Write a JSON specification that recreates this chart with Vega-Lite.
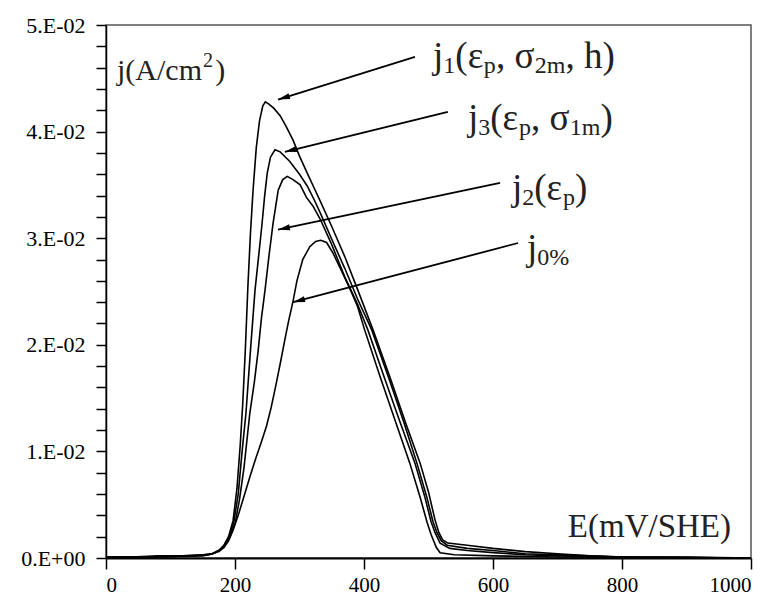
{
  "$schema": "https://vega.github.io/schema/vega-lite/v6.json",
  "width": 645,
  "height": 533,
  "autosize": {"type": "none"},
  "padding": {"left": 106, "top": 25, "right": 22, "bottom": 44},
  "background": "white",
  "config": {
    "view": {"stroke": "#555555", "strokeWidth": 1.5},
    "axis": {"grid": false, "domainColor": "black", "tickColor": "black", "labelColor": "black", "title": null}
  },
  "datasets": {
    "curves": [
      {"curve": "j1", "E": 0, "j": 0.0001}, {"curve": "j1", "E": 40, "j": 0.0001}, {"curve": "j1", "E": 80, "j": 0.0002}, {"curve": "j1", "E": 120, "j": 0.0002}, {"curve": "j1", "E": 150, "j": 0.0003}, {"curve": "j1", "E": 165, "j": 0.0004}, {"curve": "j1", "E": 175, "j": 0.0007}, {"curve": "j1", "E": 183, "j": 0.0012}, {"curve": "j1", "E": 190, "j": 0.0020}, {"curve": "j1", "E": 197, "j": 0.0035}, {"curve": "j1", "E": 203, "j": 0.0065}, {"curve": "j1", "E": 208, "j": 0.0105}, {"curve": "j1", "E": 212, "j": 0.0145}, {"curve": "j1", "E": 216, "j": 0.0195}, {"curve": "j1", "E": 220, "j": 0.0255}, {"curve": "j1", "E": 224, "j": 0.0305}, {"curve": "j1", "E": 228, "j": 0.0345}, {"curve": "j1", "E": 233, "j": 0.0385}, {"curve": "j1", "E": 238, "j": 0.0410}, {"curve": "j1", "E": 243, "j": 0.0424}, {"curve": "j1", "E": 247, "j": 0.0428}, {"curve": "j1", "E": 252, "j": 0.0426}, {"curve": "j1", "E": 260, "j": 0.0422}, {"curve": "j1", "E": 270, "j": 0.0415}, {"curve": "j1", "E": 280, "j": 0.0404}, {"curve": "j1", "E": 290, "j": 0.0392}, {"curve": "j1", "E": 300, "j": 0.0377}, {"curve": "j1", "E": 312, "j": 0.0361}, {"curve": "j1", "E": 322, "j": 0.0348}, {"curve": "j1", "E": 332, "j": 0.0335}, {"curve": "j1", "E": 350, "j": 0.0311}, {"curve": "j1", "E": 370, "j": 0.0283}, {"curve": "j1", "E": 390, "j": 0.0252}, {"curve": "j1", "E": 414, "j": 0.0214}, {"curve": "j1", "E": 440, "j": 0.0170}, {"curve": "j1", "E": 465, "j": 0.0126}, {"curve": "j1", "E": 487, "j": 0.0089}, {"curve": "j1", "E": 500, "j": 0.0062}, {"curve": "j1", "E": 510, "j": 0.0036}, {"curve": "j1", "E": 516, "j": 0.0024}, {"curve": "j1", "E": 522, "j": 0.0017}, {"curve": "j1", "E": 530, "j": 0.0014}, {"curve": "j1", "E": 560, "j": 0.0012}, {"curve": "j1", "E": 600, "j": 0.0009}, {"curve": "j1", "E": 650, "j": 0.0006}, {"curve": "j1", "E": 700, "j": 0.0004}, {"curve": "j1", "E": 750, "j": 0.0002}, {"curve": "j1", "E": 800, "j": 0.0001}, {"curve": "j1", "E": 900, "j": 0.0001}, {"curve": "j1", "E": 1000, "j": 0.0000},

      {"curve": "j3", "E": 0, "j": 0.0001}, {"curve": "j3", "E": 50, "j": 0.0001}, {"curve": "j3", "E": 100, "j": 0.0001}, {"curve": "j3", "E": 140, "j": 0.0002}, {"curve": "j3", "E": 165, "j": 0.0004}, {"curve": "j3", "E": 175, "j": 0.0007}, {"curve": "j3", "E": 183, "j": 0.0012}, {"curve": "j3", "E": 190, "j": 0.0019}, {"curve": "j3", "E": 198, "j": 0.0033}, {"curve": "j3", "E": 205, "j": 0.0060}, {"curve": "j3", "E": 211, "j": 0.0100}, {"curve": "j3", "E": 217, "j": 0.0136}, {"curve": "j3", "E": 224, "j": 0.0195}, {"curve": "j3", "E": 231, "j": 0.0251}, {"curve": "j3", "E": 237, "j": 0.0285}, {"curve": "j3", "E": 242, "j": 0.0314}, {"curve": "j3", "E": 246, "j": 0.0340}, {"curve": "j3", "E": 250, "j": 0.0361}, {"curve": "j3", "E": 255, "j": 0.0376}, {"curve": "j3", "E": 262, "j": 0.0383}, {"curve": "j3", "E": 270, "j": 0.0381}, {"curve": "j3", "E": 285, "j": 0.0372}, {"curve": "j3", "E": 300, "j": 0.0360}, {"curve": "j3", "E": 312, "j": 0.0349}, {"curve": "j3", "E": 322, "j": 0.0337}, {"curve": "j3", "E": 332, "j": 0.0324}, {"curve": "j3", "E": 350, "j": 0.0299}, {"curve": "j3", "E": 370, "j": 0.0272}, {"curve": "j3", "E": 390, "j": 0.0243}, {"curve": "j3", "E": 412, "j": 0.0214}, {"curve": "j3", "E": 440, "j": 0.0166}, {"curve": "j3", "E": 462, "j": 0.0127}, {"curve": "j3", "E": 482, "j": 0.0089}, {"curve": "j3", "E": 497, "j": 0.0058}, {"curve": "j3", "E": 507, "j": 0.0034}, {"curve": "j3", "E": 513, "j": 0.0024}, {"curve": "j3", "E": 520, "j": 0.0016}, {"curve": "j3", "E": 529, "j": 0.0012}, {"curve": "j3", "E": 560, "j": 0.0009}, {"curve": "j3", "E": 600, "j": 0.0007}, {"curve": "j3", "E": 650, "j": 0.0004}, {"curve": "j3", "E": 700, "j": 0.0003}, {"curve": "j3", "E": 750, "j": 0.0002}, {"curve": "j3", "E": 800, "j": 0.0001}, {"curve": "j3", "E": 1000, "j": 0.0000},

      {"curve": "j2", "E": 0, "j": 0.0001}, {"curve": "j2", "E": 60, "j": 0.0001}, {"curve": "j2", "E": 110, "j": 0.0002}, {"curve": "j2", "E": 150, "j": 0.0002}, {"curve": "j2", "E": 165, "j": 0.0004}, {"curve": "j2", "E": 175, "j": 0.0007}, {"curve": "j2", "E": 183, "j": 0.0011}, {"curve": "j2", "E": 192, "j": 0.0020}, {"curve": "j2", "E": 200, "j": 0.0032}, {"curve": "j2", "E": 207, "j": 0.0055}, {"curve": "j2", "E": 214, "j": 0.0085}, {"curve": "j2", "E": 223, "j": 0.0136}, {"curve": "j2", "E": 230, "j": 0.0165}, {"curve": "j2", "E": 236, "j": 0.0195}, {"curve": "j2", "E": 241, "j": 0.0225}, {"curve": "j2", "E": 246.5, "j": 0.0251}, {"curve": "j2", "E": 253, "j": 0.0285}, {"curve": "j2", "E": 259, "j": 0.0314}, {"curve": "j2", "E": 267, "j": 0.0345}, {"curve": "j2", "E": 274, "j": 0.0355}, {"curve": "j2", "E": 281, "j": 0.0358}, {"curve": "j2", "E": 290, "j": 0.0355}, {"curve": "j2", "E": 301, "j": 0.0350}, {"curve": "j2", "E": 311, "j": 0.0338}, {"curve": "j2", "E": 321, "j": 0.0330}, {"curve": "j2", "E": 332, "j": 0.0318}, {"curve": "j2", "E": 350, "j": 0.0294}, {"curve": "j2", "E": 370, "j": 0.0264}, {"curve": "j2", "E": 390, "j": 0.0238}, {"curve": "j2", "E": 406, "j": 0.0214}, {"curve": "j2", "E": 430, "j": 0.0172}, {"curve": "j2", "E": 455, "j": 0.0129}, {"curve": "j2", "E": 479, "j": 0.0089}, {"curve": "j2", "E": 494, "j": 0.0058}, {"curve": "j2", "E": 504, "j": 0.0034}, {"curve": "j2", "E": 510, "j": 0.0024}, {"curve": "j2", "E": 518, "j": 0.0014}, {"curve": "j2", "E": 533, "j": 0.0009}, {"curve": "j2", "E": 560, "j": 0.0007}, {"curve": "j2", "E": 600, "j": 0.0005}, {"curve": "j2", "E": 650, "j": 0.0003}, {"curve": "j2", "E": 700, "j": 0.0002}, {"curve": "j2", "E": 800, "j": 0.0001}, {"curve": "j2", "E": 1000, "j": 0.0000},

      {"curve": "j0", "E": 0, "j": 0.0001}, {"curve": "j0", "E": 70, "j": 0.0001}, {"curve": "j0", "E": 120, "j": 0.0002}, {"curve": "j0", "E": 160, "j": 0.0003}, {"curve": "j0", "E": 175, "j": 0.0006}, {"curve": "j0", "E": 183, "j": 0.0010}, {"curve": "j0", "E": 190, "j": 0.0016}, {"curve": "j0", "E": 197, "j": 0.0026}, {"curve": "j0", "E": 205, "j": 0.0040}, {"curve": "j0", "E": 214, "j": 0.0058}, {"curve": "j0", "E": 223, "j": 0.0076}, {"curve": "j0", "E": 232, "j": 0.0093}, {"curve": "j0", "E": 241, "j": 0.0109}, {"curve": "j0", "E": 249, "j": 0.0124}, {"curve": "j0", "E": 256, "j": 0.0141}, {"curve": "j0", "E": 263, "j": 0.0161}, {"curve": "j0", "E": 270, "j": 0.0182}, {"curve": "j0", "E": 277, "j": 0.0204}, {"curve": "j0", "E": 283, "j": 0.0222}, {"curve": "j0", "E": 290, "j": 0.0241}, {"curve": "j0", "E": 296, "j": 0.0260}, {"curve": "j0", "E": 305, "j": 0.0280}, {"curve": "j0", "E": 316, "j": 0.0292}, {"curve": "j0", "E": 325, "j": 0.0297}, {"curve": "j0", "E": 333, "j": 0.0298}, {"curve": "j0", "E": 342, "j": 0.0296}, {"curve": "j0", "E": 352, "j": 0.0286}, {"curve": "j0", "E": 367, "j": 0.0267}, {"curve": "j0", "E": 380, "j": 0.0250}, {"curve": "j0", "E": 390, "j": 0.0236}, {"curve": "j0", "E": 401, "j": 0.0214}, {"curve": "j0", "E": 425, "j": 0.0170}, {"curve": "j0", "E": 450, "j": 0.0126}, {"curve": "j0", "E": 471, "j": 0.0089}, {"curve": "j0", "E": 487, "j": 0.0057}, {"curve": "j0", "E": 498, "j": 0.0033}, {"curve": "j0", "E": 504, "j": 0.0022}, {"curve": "j0", "E": 512, "j": 0.0010}, {"curve": "j0", "E": 518, "j": 0.0005}, {"curve": "j0", "E": 540, "j": 0.0003}, {"curve": "j0", "E": 600, "j": 0.0002}, {"curve": "j0", "E": 700, "j": 0.0001}, {"curve": "j0", "E": 1000, "j": 0.0000}
    ],
    "arrows": [
      {"label": "j1", "x_start": 479, "y_start": 0.0470, "x_tip": 266.7, "y_tip": 0.0430},
      {"label": "j3", "x_start": 530, "y_start": 0.04185, "x_tip": 277.5, "y_tip": 0.0381},
      {"label": "j2", "x_start": 611, "y_start": 0.0352, "x_tip": 266.7, "y_tip": 0.0308},
      {"label": "j0", "x_start": 639, "y_start": 0.02955, "x_tip": 290, "y_tip": 0.0240}
    ],
    "pieces": [
      {"label": "j1", "role": "main", "text": "j", "E": 507.0, "j": 0.04598},
      {"label": "j1", "role": "sub", "text": "1", "E": 522.9, "j": 0.04551},
      {"label": "j1", "role": "main", "text": "(ε", "E": 541.6, "j": 0.04598},
      {"label": "j1", "role": "sub", "text": "p", "E": 585.7, "j": 0.04551},
      {"label": "j1", "role": "main", "text": ", σ", "E": 604.5, "j": 0.04598},
      {"label": "j1", "role": "sub", "text": "2m", "E": 664.7, "j": 0.04551},
      {"label": "j1", "role": "main", "text": ", h)", "E": 712.4, "j": 0.04598},
      {"label": "j3", "role": "main", "text": "j", "E": 561.2, "j": 0.04016},
      {"label": "j3", "role": "sub", "text": "3", "E": 577.2, "j": 0.03969},
      {"label": "j3", "role": "main", "text": "(ε", "E": 595.8, "j": 0.04016},
      {"label": "j3", "role": "sub", "text": "p", "E": 640.2, "j": 0.03969},
      {"label": "j3", "role": "main", "text": ", σ", "E": 658.8, "j": 0.04016},
      {"label": "j3", "role": "sub", "text": "1m", "E": 719.1, "j": 0.03969},
      {"label": "j3", "role": "main", "text": ")", "E": 766.7, "j": 0.04016},
      {"label": "j2", "role": "main", "text": "j", "E": 629.5, "j": 0.03359},
      {"label": "j2", "role": "sub", "text": "2", "E": 645.4, "j": 0.03312},
      {"label": "j2", "role": "main", "text": "(ε", "E": 664.0, "j": 0.03359},
      {"label": "j2", "role": "sub", "text": "p", "E": 708.4, "j": 0.03312},
      {"label": "j2", "role": "main", "text": ")", "E": 727.0, "j": 0.03359},
      {"label": "j0", "role": "main", "text": "j", "E": 652.7, "j": 0.02795},
      {"label": "j0", "role": "sub", "text": "0%", "E": 668.7, "j": 0.02748},
      {"label": "E", "role": "xtitle", "text": "E(mV/SHE)", "E": 716, "j": 0.00194},
      {"label": "j", "role": "ytitle", "text": "j(A/cm", "E": 17.05, "j": 0.04486},
      {"label": "j", "role": "ysup", "text": "2", "E": 150.4, "j": 0.04607},
      {"label": "j", "role": "ytitle", "text": ")", "E": 169.5, "j": 0.04486}
    ]
  },
  "resolve": {"axis": {"y": "independent"}},
  "layer": [
    {
      "data": {"name": "curves"},
      "mark": {"type": "line", "color": "black", "strokeOpacity": 0, "strokeWidth": 0},
      "encoding": {
        "x": {"field": "E", "type": "quantitative", "scale": {"domain": [0, 1000], "nice": false, "zero": false}},
        "y": {"field": "j", "type": "quantitative", "scale": {"domain": [0, 0.05], "nice": false}, "axis": {"values": [0.002, 0.004, 0.006, 0.008, 0.012, 0.014, 0.016, 0.018, 0.022, 0.024, 0.026, 0.028, 0.032, 0.034, 0.036, 0.038, 0.042, 0.044, 0.046, 0.048], "labels": false, "domain": false, "tickSize": 10, "tickWidth": 1.5, "tickColor": "black", "orient": "left", "offset": 0}},
        "detail": {"field": "curve", "type": "nominal"}
      }
    },
    {
      "encoding": {
        "x": {"type": "quantitative", "scale": {"domain": [0, 1000], "nice": false, "zero": false}},
        "y": {"type": "quantitative", "scale": {"domain": [0, 0.05], "nice": false}}
      },
      "layer": [
        {
          "data": {"name": "curves"},
          "mark": {"type": "line", "color": "black", "strokeWidth": 1.6, "interpolate": "linear"},
          "encoding": {
            "x": {"field": "E", "type": "quantitative", "axis": {"values": [0, 200, 400, 600, 800, 1000], "format": "d", "tickSize": 11, "tickWidth": 1.5, "domainWidth": 2, "labelPadding": 5, "labelFont": "'Liberation Serif', 'Times New Roman', serif", "labelFontSize": 21, "labelColor": "black"}},
            "y": {"field": "j", "type": "quantitative", "axis": {"orient": "left", "values": [0, 0.01, 0.02, 0.03, 0.04, 0.05], "labelOverlap": false, "tickSize": 10, "tickWidth": 1.5, "domainWidth": 1.5, "labelPadding": 11, "labelFont": "'Liberation Serif', 'Times New Roman', serif", "labelFontSize": 22, "labelColor": "black", "offset": 0, "labelExpr": "round(datum.value * 100) == 0 ? '0.E+00' : round(datum.value * 100) + '.E-02'"}},
            "detail": {"field": "curve", "type": "nominal"},
            "order": {"field": "E", "type": "quantitative"}
          }
        },
        {
          "data": {"name": "arrows"},
          "mark": {"type": "rule", "color": "black", "strokeWidth": 1.8},
          "encoding": {
            "x": {"field": "x_start", "type": "quantitative"},
            "y": {"field": "y_start", "type": "quantitative"},
            "x2": {"field": "x_tip"},
            "y2": {"field": "y_tip"}
          }
        },
        {
          "data": {"name": "arrows"},
          "transform": [
            {"calculate": "(atan2((datum.x_tip - datum.x_start) * 0.645, (datum.y_tip - datum.y_start) * 10650) * 180 / PI + 360) % 360", "as": "heading"}
          ],
          "mark": {"type": "point", "shape": "M0,0L0.6,2.4L-0.6,2.4Z", "filled": true, "color": "black", "opacity": 1, "size": 100, "strokeWidth": 0},
          "encoding": {
            "x": {"field": "x_tip", "type": "quantitative"},
            "y": {"field": "y_tip", "type": "quantitative"},
            "angle": {"field": "heading", "type": "quantitative", "scale": null}
          }
        },
        {
          "data": {"name": "pieces"},
          "transform": [{"filter": "datum.role == 'main'"}],
          "mark": {"type": "text", "align": "left", "baseline": "alphabetic", "font": "'Liberation Serif', 'Times New Roman', serif", "fontSize": 37, "color": "#222222"},
          "encoding": {
            "x": {"field": "E", "type": "quantitative"},
            "y": {"field": "j", "type": "quantitative"},
            "text": {"field": "text"}
          }
        },
        {
          "data": {"name": "pieces"},
          "transform": [{"filter": "datum.role == 'sub'"}],
          "mark": {"type": "text", "align": "left", "baseline": "alphabetic", "font": "'Liberation Serif', 'Times New Roman', serif", "fontSize": 24, "color": "#222222"},
          "encoding": {
            "x": {"field": "E", "type": "quantitative"},
            "y": {"field": "j", "type": "quantitative"},
            "text": {"field": "text"}
          }
        },
        {
          "data": {"name": "pieces"},
          "transform": [{"filter": "datum.role == 'xtitle'"}],
          "mark": {"type": "text", "align": "left", "baseline": "alphabetic", "font": "'Liberation Serif', 'Times New Roman', serif", "fontSize": 33, "color": "#222222"},
          "encoding": {
            "x": {"field": "E", "type": "quantitative"},
            "y": {"field": "j", "type": "quantitative"},
            "text": {"field": "text"}
          }
        },
        {
          "data": {"name": "pieces"},
          "transform": [{"filter": "datum.role == 'ytitle'"}],
          "mark": {"type": "text", "align": "left", "baseline": "alphabetic", "font": "'Liberation Serif', 'Times New Roman', serif", "fontSize": 30, "color": "#222222"},
          "encoding": {
            "x": {"field": "E", "type": "quantitative"},
            "y": {"field": "j", "type": "quantitative"},
            "text": {"field": "text"}
          }
        },
        {
          "data": {"name": "pieces"},
          "transform": [{"filter": "datum.role == 'ysup'"}],
          "mark": {"type": "text", "align": "left", "baseline": "alphabetic", "font": "'Liberation Serif', 'Times New Roman', serif", "fontSize": 20, "color": "#222222"},
          "encoding": {
            "x": {"field": "E", "type": "quantitative"},
            "y": {"field": "j", "type": "quantitative"},
            "text": {"field": "text"}
          }
        }
      ]
    }
  ]
}
